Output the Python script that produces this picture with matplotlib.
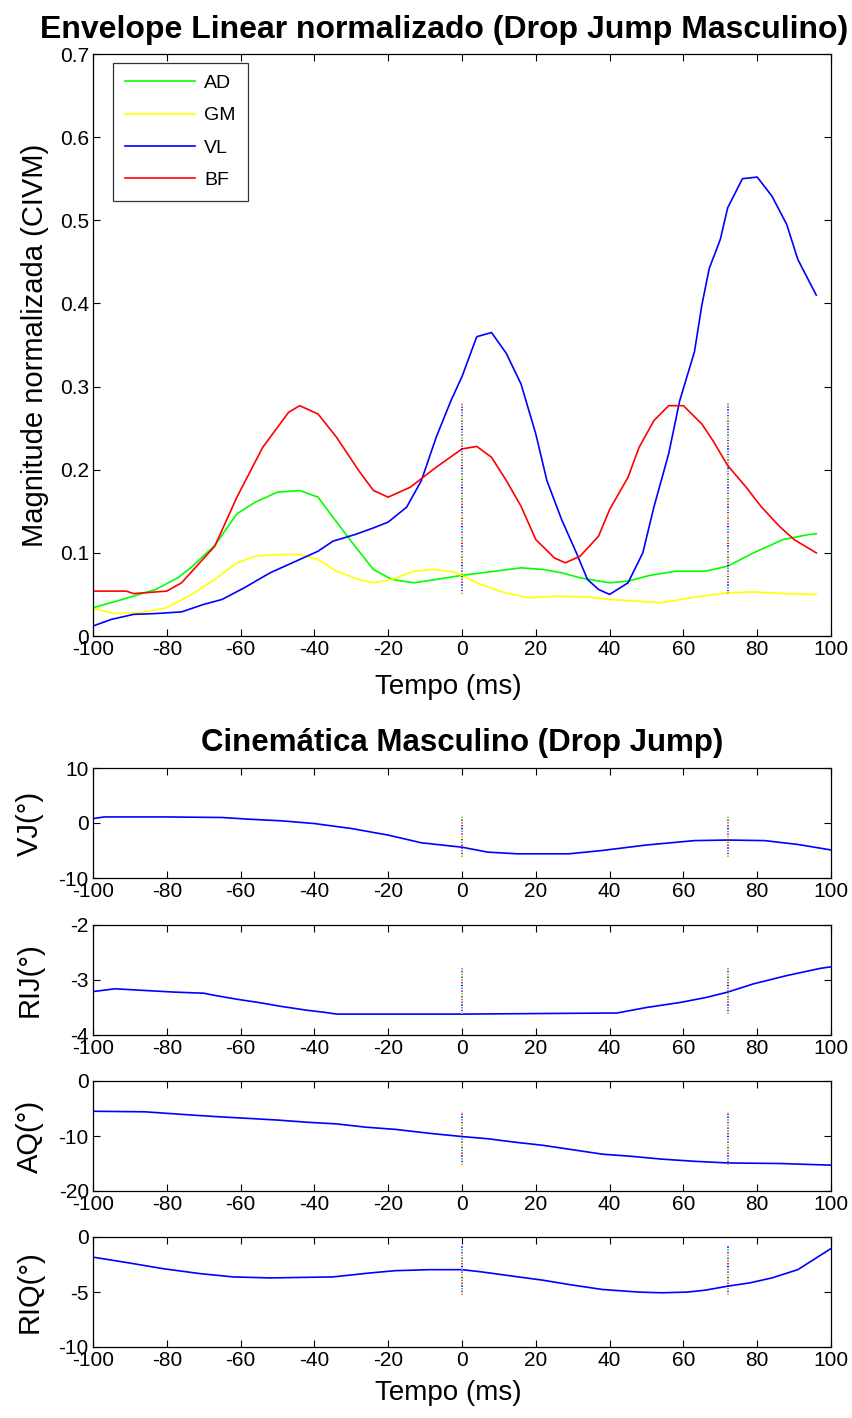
import numpy as np
import matplotlib
matplotlib.use("Agg")
import matplotlib.pyplot as plt

plt.rcParams['font.family'] = ['Liberation Sans', 'DejaVu Sans']
plt.rcParams['lines.scale_dashes'] = False
plt.rcParams['axes.unicode_minus'] = False

# --- EMG envelopes (top panel) ---
t_ad = [-100, -92, -83, -77, -73, -67, -61, -56, -50, -44, -39, -35, -29, -24, -19, -13, -7, 0, 9, 16, 22, 27, 32, 40, 45, 51, 58, 66, 72, 79, 87, 94, 96]
ad = [0.034, 0.044, 0.056, 0.070, 0.084, 0.109, 0.147, 0.161, 0.173, 0.175, 0.167, 0.143, 0.108, 0.080, 0.068, 0.064, 0.068, 0.073, 0.078, 0.082, 0.080, 0.076, 0.070, 0.064, 0.066, 0.073, 0.078, 0.078, 0.084, 0.100, 0.116, 0.122, 0.123]

t_gm = [-100, -94, -87, -80, -74, -67, -61, -56, -50, -44, -39, -34, -28, -24, -19, -13, -8, -2, 4, 10, 18, 26, 34, 40, 47, 54, 58, 65, 72, 79, 87, 96]
gm = [0.033, 0.027, 0.028, 0.034, 0.048, 0.068, 0.088, 0.096, 0.098, 0.098, 0.092, 0.078, 0.068, 0.064, 0.068, 0.078, 0.080, 0.077, 0.064, 0.054, 0.046, 0.048, 0.047, 0.044, 0.042, 0.040, 0.043, 0.048, 0.052, 0.053, 0.051, 0.050]

t_vl = [-100, -95, -89, -83, -76, -70, -65, -59, -52, -45, -39, -35, -29, -24, -20, -15, -11, -7, -3, 0, 1.5, 4, 8, 12, 16, 20, 23, 27, 31, 34, 37, 40, 45, 49, 52, 56, 59, 63, 65, 67, 70, 72, 76, 80, 84, 88, 91, 96]
vl = [0.012, 0.020, 0.026, 0.027, 0.029, 0.038, 0.044, 0.058, 0.076, 0.090, 0.102, 0.114, 0.122, 0.130, 0.137, 0.155, 0.187, 0.239, 0.283, 0.312, 0.330, 0.360, 0.365, 0.340, 0.303, 0.243, 0.187, 0.140, 0.100, 0.068, 0.056, 0.050, 0.064, 0.100, 0.155, 0.219, 0.283, 0.342, 0.398, 0.442, 0.477, 0.515, 0.550, 0.552, 0.529, 0.495, 0.453, 0.410]

t_bf = [-100, -91, -89, -80, -76, -67, -61, -54, -47, -44, -39, -34, -28, -24, -20, -14, -7, 0, 4, 8, 12, 16, 20, 25, 28, 32, 37, 40, 45, 48, 52, 56, 60, 65, 68, 72, 77, 81, 86, 90, 96]
bf = [0.054, 0.054, 0.051, 0.054, 0.064, 0.108, 0.167, 0.227, 0.269, 0.277, 0.267, 0.239, 0.199, 0.175, 0.167, 0.179, 0.203, 0.225, 0.228, 0.215, 0.187, 0.156, 0.116, 0.094, 0.088, 0.096, 0.120, 0.152, 0.191, 0.227, 0.259, 0.277, 0.277, 0.255, 0.235, 0.205, 0.179, 0.156, 0.132, 0.116, 0.100]

emg_names = ['AD', 'GM', 'VL', 'BF']
emg_colors = [(0, 1, 0), (1, 1, 0), (0, 0, 1), (1, 0, 0)]

# --- kinematics (bottom panels) ---
t_vj = [-100, -97, -80, -65, -58, -49, -40, -30, -20, -11, 0, 7, 15, 29, 38, 50, 63, 72, 82, 91, 100]
vj = [0.8, 1.1, 1.1, 1.0, 0.7, 0.4, -0.1, -1.0, -2.2, -3.6, -4.4, -5.3, -5.6, -5.6, -5.0, -4.0, -3.2, -3.1, -3.2, -3.9, -4.9]

t_rij = [-100, -94, -86, -78, -70, -67, -61, -55, -49, -42, -37, -34, 0, 42, 50, 59, 66, 72, 79, 88, 97, 100]
rij = [-3.21, -3.16, -3.19, -3.22, -3.24, -3.28, -3.35, -3.41, -3.48, -3.55, -3.59, -3.62, -3.62, -3.6, -3.50, -3.41, -3.32, -3.22, -3.07, -2.92, -2.79, -2.76]

t_aq = [-100, -86, -73, -66, -58, -50, -42, -34, -26, -18, -9, 0, 7, 14, 22, 30, 38, 46, 54, 63, 72, 86, 100]
aq = [-5.5, -5.6, -6.2, -6.5, -6.8, -7.1, -7.5, -7.8, -8.4, -8.8, -9.5, -10.1, -10.5, -11.1, -11.7, -12.5, -13.3, -13.7, -14.2, -14.6, -14.9, -15.0, -15.3]

t_riq = [-100, -90, -81, -71, -62, -52, -35, -25, -18, -9, 0, 5.5, 14, 22, 29, 38, 48, 54, 61, 66, 72, 78, 84, 91, 100]
riq = [-1.83, -2.37, -2.88, -3.33, -3.63, -3.72, -3.63, -3.27, -3.06, -2.97, -2.97, -3.18, -3.57, -3.93, -4.32, -4.77, -5.01, -5.07, -5.01, -4.83, -4.47, -4.17, -3.72, -2.97, -1.05]

kin_labels = ['VJ(°)', 'RIJ(°)', 'AQ(°)', 'RIQ(°)']
kin_ylims = [(-10, 10), (-4, -2), (-20, 0), (-10, 0)]
kin_yticks = [[-10, 0, 10], [-4, -3, -2], [-20, -10, 0], [-10, -5, 0]]

# event markers (dotted multicolour vertical lines)
event_times = [0, 72]
emg_event_range = (0.05, 0.28)
kin_event_ranges = [(-6.2, 1.3), (-3.62, -2.78), (-15.3, -5.7), (-5.3, -0.8)]
event_colors = ['y', 'g', 'gray', 'r', 'b', 'c', 'm']

xticks = list(range(-100, 101, 20))

W, H = 852, 1418
fig = plt.figure(figsize=(W / 100, H / 100), dpi=100)

def ax_at(left, top, right, bottom):
    return fig.add_axes([left / W, 1 - bottom / H, (right - left) / W, (bottom - top) / H])

def style(ax):
    ax.tick_params(direction='in', top=True, right=True, length=5, width=0.8,
                   labelsize=15, pad=3)
    for s in ax.spines.values():
        s.set_linewidth(0.9)

def events(ax, lo, hi):
    for et in event_times:
        for i, c in enumerate(event_colors):
            ax.plot([et, et], [lo, hi], color=c, lw=1.3,
                    linestyle=(i * 2, (1, 13)))

# top panel
ax = ax_at(93, 54, 831, 636)
series = [(t_ad, ad), (t_gm, gm), (t_vl, vl), (t_bf, bf)]
for (tt, yy), name, c in zip(series, emg_names, emg_colors):
    ax.plot(tt, yy, color=c, lw=1.2, label=name)
events(ax, *emg_event_range)
ax.set_xlim(-100, 100)
ax.set_ylim(0, 0.7)
ax.set_xticks(xticks)
ax.set_yticks(np.arange(0, 0.71, 0.1))
ax.set_yticklabels(['0', '0.1', '0.2', '0.3', '0.4', '0.5', '0.6', '0.7'])
style(ax)
ax.set_xlabel('Tempo (ms)', fontsize=20)
ax.xaxis.set_label_coords((448 - 93) / 738, -(674 - 636) / 582)
ax.set_ylabel('Magnitude normalizada (CIVM)', fontsize=21, labelpad=8)
leg = ax.legend(loc='upper left', bbox_to_anchor=(20 / 738, 1 - 9 / 582), fontsize=14,
                frameon=True, fancybox=False, edgecolor='black', borderaxespad=0,
                handlelength=3.6, handletextpad=0.5, labelspacing=0.75, borderpad=0.6)
leg.get_frame().set_linewidth(0.9)
fig.text(444 / W, 1 - 30 / H, 'Envelope Linear normalizado (Drop Jump Masculino)',
         ha='center', va='center', fontsize=23, fontweight='bold')

# bottom panels
kin_series = [(t_vj, vj), (t_rij, rij), (t_aq, aq), (t_riq, riq)]
tops = [768, 925, 1081, 1237]
for k, ((tt, yy), lab, yl, yt, rng, top) in enumerate(
        zip(kin_series, kin_labels, kin_ylims, kin_yticks, kin_event_ranges, tops)):
    a = ax_at(93, top, 831, top + 110)
    a.plot(tt, yy, color='b', lw=1.2)
    events(a, *rng)
    a.set_xlim(-100, 100)
    a.set_ylim(*yl)
    a.set_xticks(xticks)
    a.set_yticks(yt)
    style(a)
    a.set_ylabel(lab, fontsize=21)
    a.yaxis.set_label_coords(-(93 - 44) / 738, 0.5)
    if k == 0:
        a.set_title('Cinemática Masculino (Drop Jump)', fontsize=22.5,
                    fontweight='bold', pad=12)
    if k == 3:
        a.set_xlabel('Tempo (ms)', fontsize=20)
        a.xaxis.set_label_coords((448 - 93) / 738, -(1380 - 1347) / 110)

fig.savefig('out.png', dpi=100)
